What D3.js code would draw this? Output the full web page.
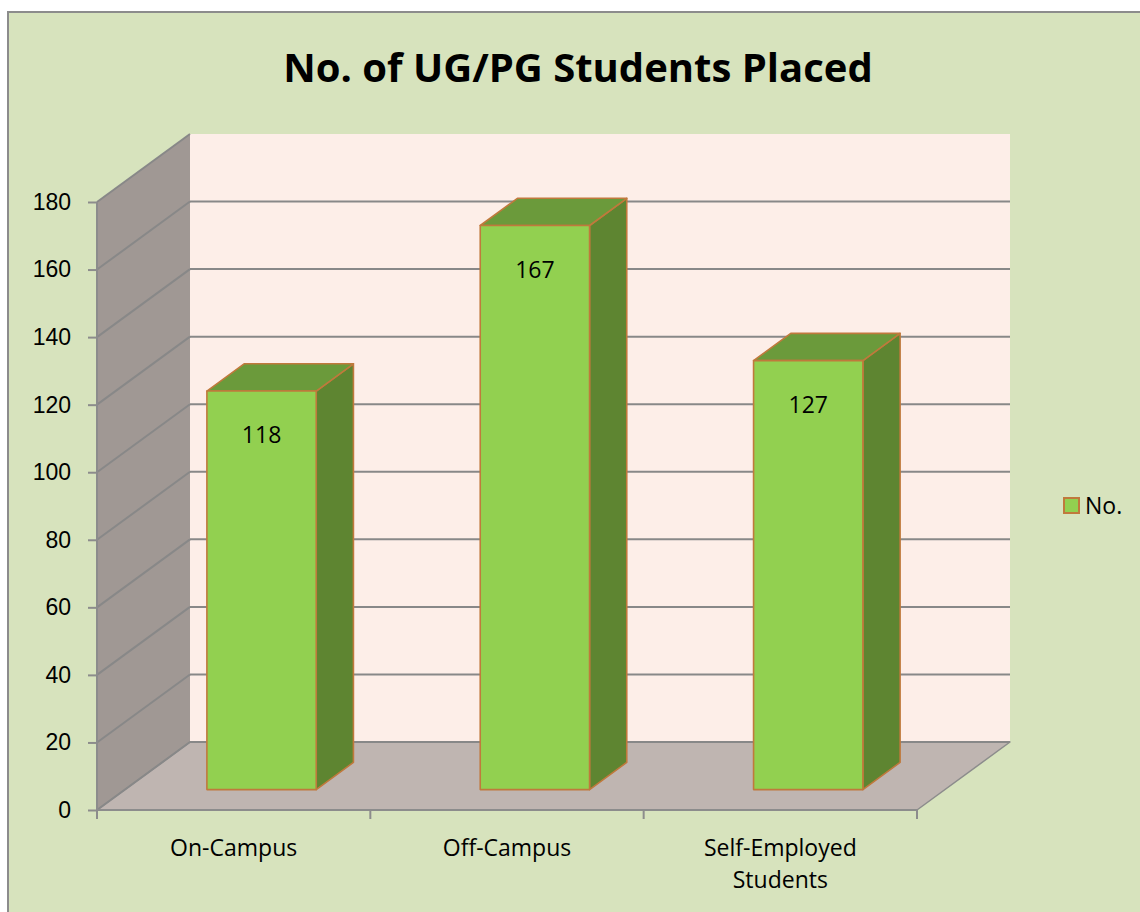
<!DOCTYPE html>
<html>
<head>
<meta charset="utf-8">
<script src="https://cdn.jsdelivr.net/npm/d3@7"></script>
<style>
  body { margin: 0; background: #fff; }
  svg { display: block; font-family: "Open Sans", Calibri, sans-serif; }
</style>
</head>
<body>
<div id="graph-wrapper"></div>
<script>
// Chart data
const title = "No. of UG/PG Students Placed";
const categories = ["On-Campus", "Off-Campus", "Self-Employed Students"];
const categoryLines = [["On-Campus"], ["Off-Campus"], ["Self-Employed", "Students"]];
const values = [118, 167, 127];
const seriesName = "No.";
const yTicks = [0, 20, 40, 60, 80, 100, 120, 140, 160, 180];

function drawChart() {
  const width = 1140;
  const height = 912;

  // front plane of the plot and the depth offset of the 3D box
  const plotLeft = 97, plotRight = 917, plotTop = 202, plotBottom = 810;
  const depthX = 93, depthY = -68;

  const x = d3.scaleBand(categories, [plotLeft, plotRight]);
  const y = d3.scaleLinear([0, 180], [plotBottom, plotTop]);

  // project a front-plane point back by a depth fraction
  const px = (xv, d) => xv + d * depthX;
  const py = (yv, d) => yv + d * depthY;

  const svg = d3.select("#graph-wrapper").append("svg")
    .attr("width", width)
    .attr("height", height);

  // chart area
  svg.append("rect")
    .attr("x", 8).attr("y", 12)
    .attr("width", width).attr("height", height)
    .attr("fill", "#d7e3bd")
    .attr("stroke", "#8c8c8c")
    .attr("stroke-width", 2);

  svg.append("text")
    .attr("x", 578).attr("y", 82)
    .attr("text-anchor", "middle")
    .style("font-size", "40px")
    .style("font-weight", "bold")
    .text(title);

  const line = d3.line();

  // back wall
  svg.append("path")
    .attr("d", line([[px(plotLeft, 1), py(plotTop, 1)], [px(plotRight, 1), py(plotTop, 1)],
      [px(plotRight, 1), py(plotBottom, 1)], [px(plotLeft, 1), py(plotBottom, 1)]]) + "Z")
    .attr("fill", "#fdeee8");

  // side wall
  svg.append("path")
    .attr("d", line([[plotLeft, plotTop], [px(plotLeft, 1), py(plotTop, 1)],
      [px(plotLeft, 1), py(plotBottom, 1)], [plotLeft, plotBottom]]) + "Z")
    .attr("fill", "#a09894");

  // floor
  svg.append("path")
    .attr("d", line([[plotLeft, plotBottom], [px(plotLeft, 1), py(plotBottom, 1)],
      [px(plotRight, 1), py(plotBottom, 1)], [plotRight, plotBottom]]) + "Z")
    .attr("fill", "#bfb5b1")
    .attr("stroke", "#8c8c8c")
    .attr("stroke-width", 1.5)
    .attr("stroke-linejoin", "round");

  // gridlines: back wall + side wall
  const grid = svg.append("g")
    .attr("stroke", "#888")
    .attr("stroke-width", 2)
    .attr("fill", "none");

  grid.selectAll(".gback")
    .data(yTicks.filter(t => t < 180))
    .enter().append("line")
    .attr("class", "gback")
    .attr("x1", px(plotLeft, 1)).attr("x2", px(plotRight, 1))
    .attr("y1", d => py(y(d), 1)).attr("y2", d => py(y(d), 1));

  grid.selectAll(".gside")
    .data(yTicks)
    .enter().append("line")
    .attr("class", "gside")
    .attr("x1", plotLeft).attr("x2", px(plotLeft, 1))
    .attr("y1", d => y(d)).attr("y2", d => py(y(d), 1));

  // y axis
  const yAxis = svg.append("g")
    .attr("transform", `translate(${plotLeft},0)`)
    .call(d3.axisLeft(y).tickValues(yTicks).tickSize(9).tickPadding(17).tickFormat(d3.format("d")));
  yAxis.selectAll("path, line").attr("stroke", "#8c8c8c").attr("stroke-width", 2);
  yAxis.select(".domain").attr("d", `M0,${plotTop}V${plotBottom}`);
  yAxis.selectAll("text").attr("fill", "#000").style("font-size", "23px");

  // x axis: ticks at band edges, labels at band centres
  const xAxis = svg.append("g");
  xAxis.append("line")
    .attr("x1", plotLeft).attr("x2", plotRight)
    .attr("y1", plotBottom).attr("y2", plotBottom)
    .attr("stroke", "#8c8c8c").attr("stroke-width", 2);
  xAxis.selectAll(".xtick")
    .data(categories.map(c => x(c)).concat([plotRight]))
    .enter().append("line")
    .attr("class", "xtick")
    .attr("x1", d => d).attr("x2", d => d)
    .attr("y1", plotBottom).attr("y2", plotBottom + 9)
    .attr("stroke", "#8c8c8c").attr("stroke-width", 2);
  xAxis.selectAll(".xlabel")
    .data(categories)
    .enter().append("text")
    .attr("class", "xlabel")
    .attr("text-anchor", "middle")
    .style("font-size", "23px")
    .selectAll("tspan")
    .data((c, i) => categoryLines[i].map(t => ({ c, t })))
    .enter().append("tspan")
    .attr("x", d => x(d.c) + x.bandwidth() / 2)
    .attr("y", (d, i) => 856 + i * 32)
    .text(d => d.t);

  // 3D bars: occupy 40% of the band, between depth 0.3 and 0.7
  const barW = x.bandwidth() * 0.4;
  const d0 = 0.3, d1 = 0.7;
  const bars = svg.selectAll(".bar")
    .data(categories.map((c, i) => ({ c, v: values[i] })))
    .enter().append("g")
    .attr("class", "bar")
    .attr("stroke", "#c0793c")
    .attr("stroke-width", 1.6)
    .attr("stroke-linejoin", "round");

  const bx0 = d => x(d.c) + (x.bandwidth() - barW) / 2;
  const bx1 = d => bx0(d) + barW;

  // right side
  bars.append("path")
    .attr("fill", "#5e8531")
    .attr("d", d => line([
      [px(bx1(d), d0), py(y(d.v), d0)], [px(bx1(d), d1), py(y(d.v), d1)],
      [px(bx1(d), d1), py(y(0), d1)], [px(bx1(d), d0), py(y(0), d0)]]) + "Z");
  // top
  bars.append("path")
    .attr("fill", "#6b9a3b")
    .attr("d", d => line([
      [px(bx0(d), d0), py(y(d.v), d0)], [px(bx0(d), d1), py(y(d.v), d1)],
      [px(bx1(d), d1), py(y(d.v), d1)], [px(bx1(d), d0), py(y(d.v), d0)]]) + "Z");
  // front
  bars.append("path")
    .attr("fill", "#92d050")
    .attr("d", d => line([
      [px(bx0(d), d0), py(y(d.v), d0)], [px(bx1(d), d0), py(y(d.v), d0)],
      [px(bx1(d), d0), py(y(0), d0)], [px(bx0(d), d0), py(y(0), d0)]]) + "Z");

  // value labels
  bars.append("text")
    .attr("stroke", "none")
    .attr("fill", "#000")
    .attr("text-anchor", "middle")
    .style("font-size", "23px")
    .attr("x", d => px(bx0(d) + barW / 2, d0))
    .attr("y", d => py(y(d.v), d0) + 52)
    .text(d => d.v);

  // legend
  const legend = svg.append("g").attr("id", "legend");
  legend.append("rect")
    .attr("x", 1064).attr("y", 498)
    .attr("width", 15).attr("height", 15)
    .attr("fill", "#92d050")
    .attr("stroke", "#c0793c")
    .attr("stroke-width", 2);
  legend.append("text")
    .attr("x", 1085).attr("y", 514)
    .style("font-size", "23px")
    .text(seriesName);
}

if (document.readyState !== 'loading') {
  drawChart();
} else { document.addEventListener("DOMContentLoaded", () => drawChart()) }
</script>
</body>
</html>
